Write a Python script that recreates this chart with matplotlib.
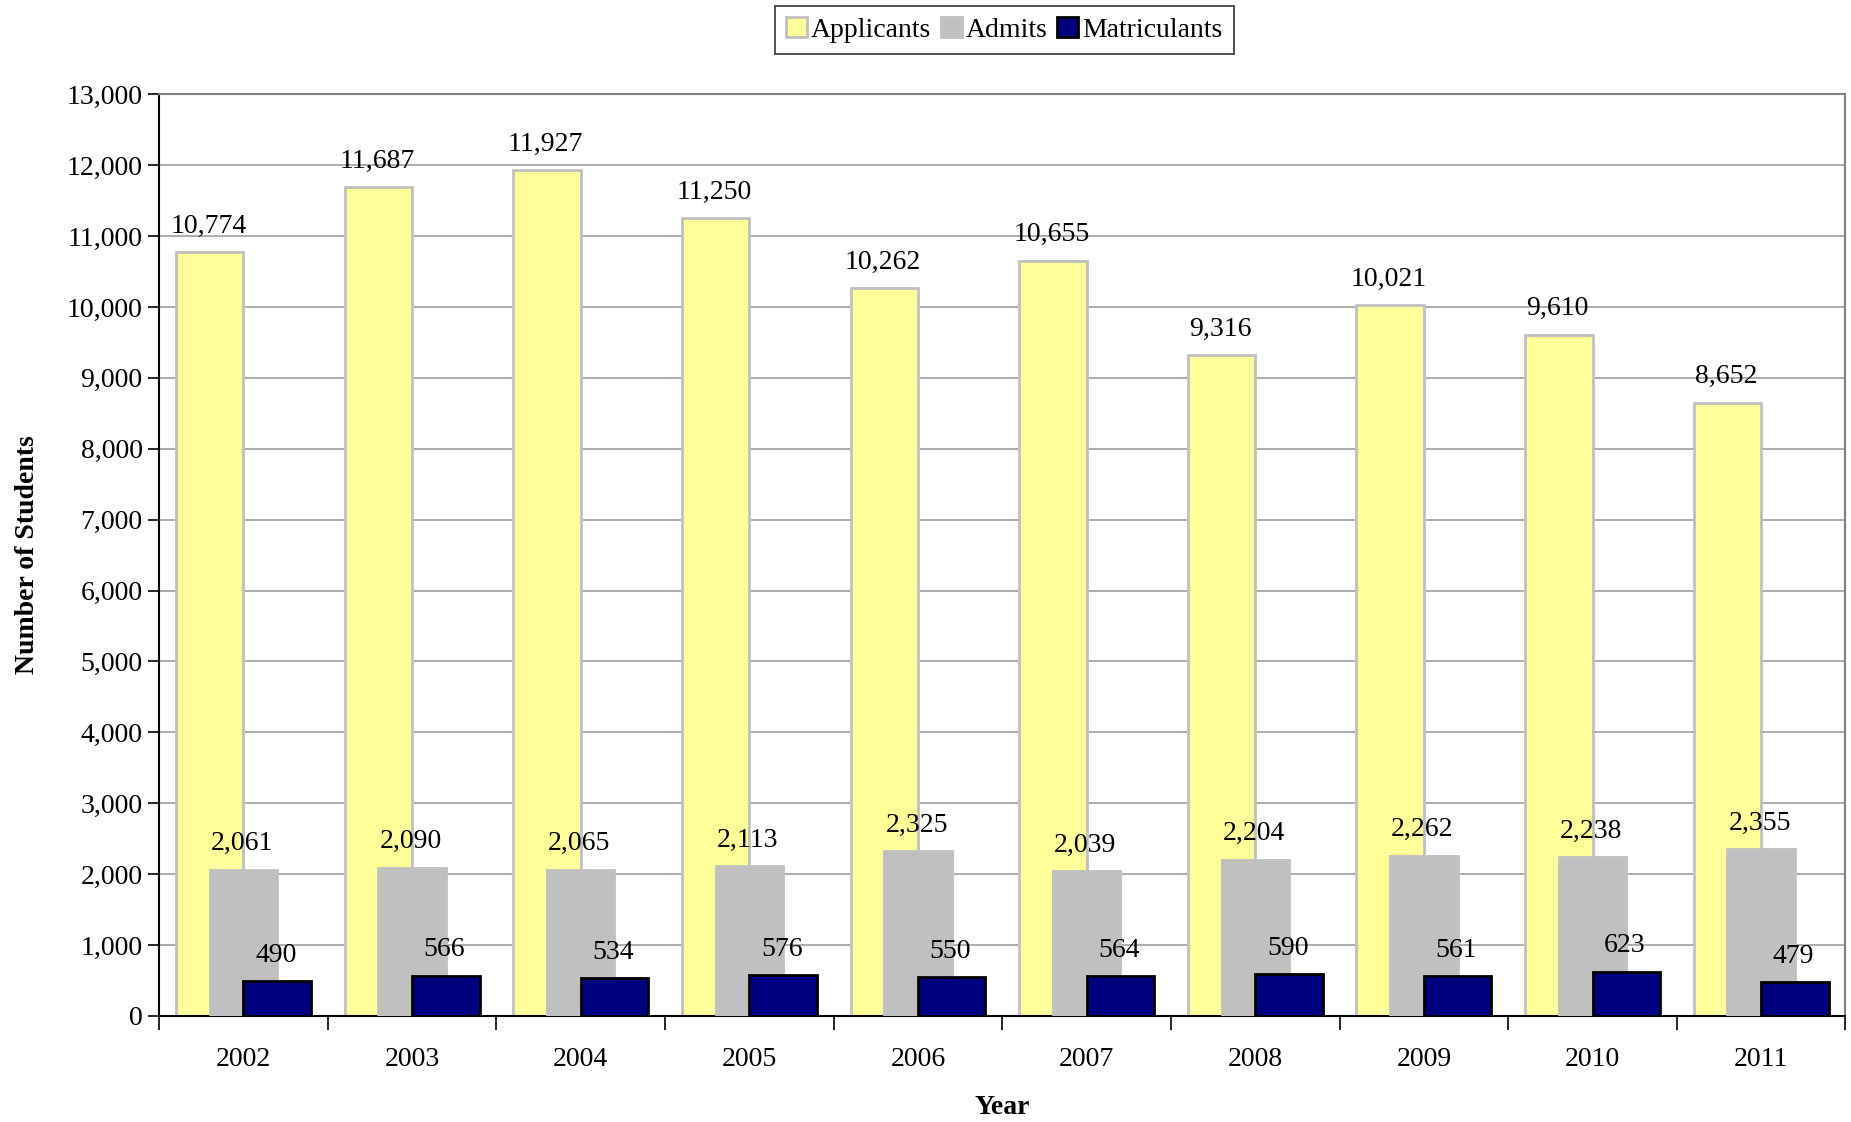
import matplotlib
matplotlib.use("Agg")
import matplotlib.pyplot as plt
from matplotlib.ticker import FuncFormatter, FixedLocator, NullFormatter
import numpy as np

years = ["2002", "2003", "2004", "2005", "2006", "2007", "2008", "2009", "2010", "2011"]
applicants = [10774, 11687, 11927, 11250, 10262, 10655, 9316, 10021, 9610, 8652]
admits = [2061, 2090, 2065, 2113, 2325, 2039, 2204, 2262, 2238, 2355]
matriculants = [490, 566, 534, 576, 550, 564, 590, 561, 623, 479]

plt.rcParams['font.family'] = ['Liberation Serif', 'DejaVu Serif']

fig = plt.figure(figsize=(18.51, 11.22), dpi=100)
ax = fig.add_axes([0.086, 0.0945, 0.911, 0.8215])

x = np.arange(len(years))
w = 0.4
step = 0.2
series = [
    ("Applicants", applicants, "#FFFF99", "#C0C0C0", -step, 2),
    ("Admits", admits, "#C0C0C0", "#C0C0C0", 0.0, 3),
    ("Matriculants", matriculants, "#000080", "#000000", step, 4),
]
handles = []
for name, vals, fc, ec, off, z in series:
    b = ax.bar(x + off, vals, width=w, color=fc, edgecolor=ec, linewidth=2, zorder=z, label=name)
    handles.append(b)
    for xi, v in zip(x + off, vals):
        ax.annotate(f"{v:,}", (xi, v), xytext=(-1, 14), textcoords="offset points",
                    ha="center", va="baseline", fontsize=20, zorder=6)

ax.set_xlim(-0.5, len(years) - 0.5)
ax.set_ylim(0, 13000)
ax.set_yticks(np.arange(0, 13001, 1000))
ax.yaxis.set_major_formatter(FuncFormatter(lambda v, p: f"{int(v):,}"))
ax.yaxis.grid(True, color="#A0A0A0", linewidth=1.2, zorder=0)
ax.set_axisbelow(True)

ax.xaxis.set_major_locator(FixedLocator(np.arange(-0.5, len(years), 1.0)))
ax.xaxis.set_major_formatter(NullFormatter())
ax.xaxis.set_minor_locator(FixedLocator(x))
ax.set_xticklabels(years, minor=True)
ax.tick_params(axis="x", which="minor", length=0, labelsize=20, pad=22)
ax.tick_params(axis="x", which="major", length=10, width=1.2, direction="out")
ax.tick_params(axis="y", length=8, width=1.2, labelsize=20, pad=4)

for s in ["top", "right"]:
    ax.spines[s].set_color("#808080")
    ax.spines[s].set_linewidth(1.5)
for s in ["left", "bottom"]:
    ax.spines[s].set_color("#000000")
    ax.spines[s].set_linewidth(1.5)

ax.set_ylabel("Number of Students", fontsize=20, fontweight="bold", labelpad=19)
ax.set_xlabel("Year", fontsize=20, fontweight="bold", labelpad=17)

leg = fig.legend(handles=handles, labels=[s[0] for s in series], loc="upper center",
                 bbox_to_anchor=(0.5425, 0.995), ncol=3, fontsize=20, frameon=True,
                 fancybox=False, edgecolor="#000000", handlelength=0.75, handleheight=0.75,
                 handletextpad=0.15, columnspacing=0.35, borderpad=0.4, borderaxespad=0)
leg.get_frame().set_linewidth(1.2)

fig.savefig("out.png", dpi=100)
